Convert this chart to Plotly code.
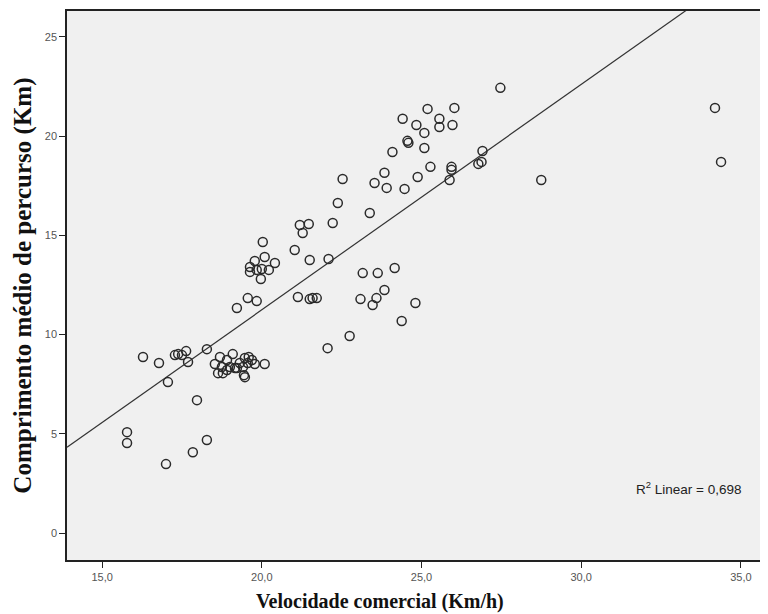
import numpy as np
import plotly.graph_objects as go

# Data
velocidade = [15.78, 15.78, 16.28, 16.78, 17.06, 17.00, 17.28, 17.38, 17.50, 17.63,
              17.69, 17.84, 17.97, 18.28, 18.28,
              18.53, 18.69, 18.91, 18.63, 18.78, 18.91, 18.75, 19.09, 19.00, 19.16,
              19.31, 19.47, 19.59, 19.47, 19.44, 19.56, 19.41, 19.78, 20.09, 19.69, 19.22,
              19.22, 19.56, 19.84, 19.63, 19.63, 19.78, 19.84, 20.00, 20.03, 20.09,
              20.22, 20.41, 19.97,
              21.03, 21.19, 21.47, 21.28, 21.13, 21.50, 21.59, 21.72, 21.50, 22.09,
              22.22, 22.06, 22.38, 22.53, 22.75, 23.16, 23.09, 23.38, 23.53, 23.63,
              23.47, 23.59, 23.84, 23.84, 23.91, 24.16, 24.09, 24.38, 24.47, 24.59,
              24.56, 24.81, 24.41, 24.84, 24.88, 25.09, 25.09, 25.19, 25.28, 25.56,
              25.56, 25.97, 26.03, 25.94, 25.94, 25.88, 26.78, 26.88, 26.91, 27.47,
              28.75, 34.19, 34.38]
comprimento = [5.09, 4.54, 8.87, 8.57, 7.61, 3.48, 8.97, 9.02, 8.97, 9.17,
               8.62, 4.08, 6.70, 4.69, 9.27,
               8.52, 8.87, 8.72, 8.06, 8.06, 8.22, 8.37, 9.02, 8.37, 8.32,
               8.57, 8.82, 8.87, 7.86, 7.96, 8.57, 8.37, 8.52, 8.52, 8.72, 8.32,
               11.34, 11.84, 11.69, 13.41, 13.16, 13.71, 13.26, 13.31, 14.67, 13.91,
               13.26, 13.61, 12.80,
               14.26, 15.52, 15.57, 15.12, 11.90, 11.79, 11.84, 11.84, 13.76, 13.81,
               15.62, 9.32, 16.63, 17.84, 9.93, 13.10, 11.79, 16.13, 17.64, 13.10,
               11.49, 11.84, 12.25, 18.15, 17.39, 13.36, 19.20, 10.69, 17.34, 19.66,
               19.76, 11.59, 20.87, 20.56, 17.94, 19.40, 20.16, 21.37, 18.45, 20.87,
               20.46, 20.56, 21.42, 18.45, 18.30, 17.79, 18.60, 18.70, 19.25, 22.43,
               17.79, 21.42, 18.70]

# Linear fit coefficients (as drawn) and R²
fit_intercept = -11.45
fit_slope = 1.135
r2_text = "R<sup>2</sup> Linear = 0,698"

x_title = "Velocidade comercial (Km/h)"
y_title = "Comprimento médio de percurso (Km)"

x_ticks = [15, 20, 25, 30, 35]
x_tick_labels = ["15,0", "20,0", "25,0", "30,0", "35,0"]
y_ticks = [0, 5, 10, 15, 20, 25]
y_tick_labels = ["0", "5", "10", "15", "20", "25"]

x_range = [13.9, 35.85]
y_range = [-1.35, 26.3]

fig = go.Figure()

x_line = np.array(x_range)
fig.add_trace(go.Scatter(
    x=x_line, y=fit_intercept + fit_slope * x_line,
    mode="lines", line=dict(color="#333333", width=1.2),
    hoverinfo="skip", showlegend=False))

fig.add_trace(go.Scatter(
    x=velocidade, y=comprimento, mode="markers",
    marker=dict(symbol="circle-open", size=9, color="#2a2a2a",
                line=dict(width=1.5, color="#2a2a2a")),
    showlegend=False))

fig.add_annotation(x=0.964, y=0.131, xref="paper", yref="paper",
                   text=r2_text, showarrow=False, xanchor="right", yanchor="middle",
                   font=dict(family="Liberation Sans, Arial", size=13.5, color="#222222"))

title_font = dict(family="Liberation Serif, DejaVu Serif", color="#111111", weight="bold")
fig.add_annotation(x=0.447, y=-0.075, xref="paper", yref="paper",
                   text=x_title, showarrow=False, xanchor="center", yanchor="middle",
                   font=dict(size=20, **title_font))
fig.add_annotation(x=-0.064, y=0.5, xref="paper", yref="paper", textangle=-90,
                   text=y_title, showarrow=False, xanchor="center", yanchor="middle",
                   font=dict(size=25, **title_font))

fig.update_layout(
    width=760, height=606,
    paper_bgcolor="white", plot_bgcolor="#f0f0f0",
    margin=dict(l=59, r=0, t=3, b=54, autoexpand=False),
    xaxis=dict(range=x_range, tickvals=x_ticks, ticktext=x_tick_labels,
               automargin=False,
               showgrid=False, zeroline=False, ticks="outside", ticklen=6,
               tickcolor="#222222", showline=True, linecolor="#222222", linewidth=1.5,
               mirror=True,
               tickfont=dict(family="Liberation Sans, Arial", size=11, color="#555555")),
    yaxis=dict(range=y_range, tickvals=y_ticks, ticktext=y_tick_labels,
               automargin=False,
               showgrid=False, zeroline=False, ticks="outside", ticklen=6,
               tickcolor="#222222", showline=True, linecolor="#222222", linewidth=1.5,
               mirror=True,
               tickfont=dict(family="Liberation Sans, Arial", size=11, color="#555555")),
)

fig.write_html("out.html")
